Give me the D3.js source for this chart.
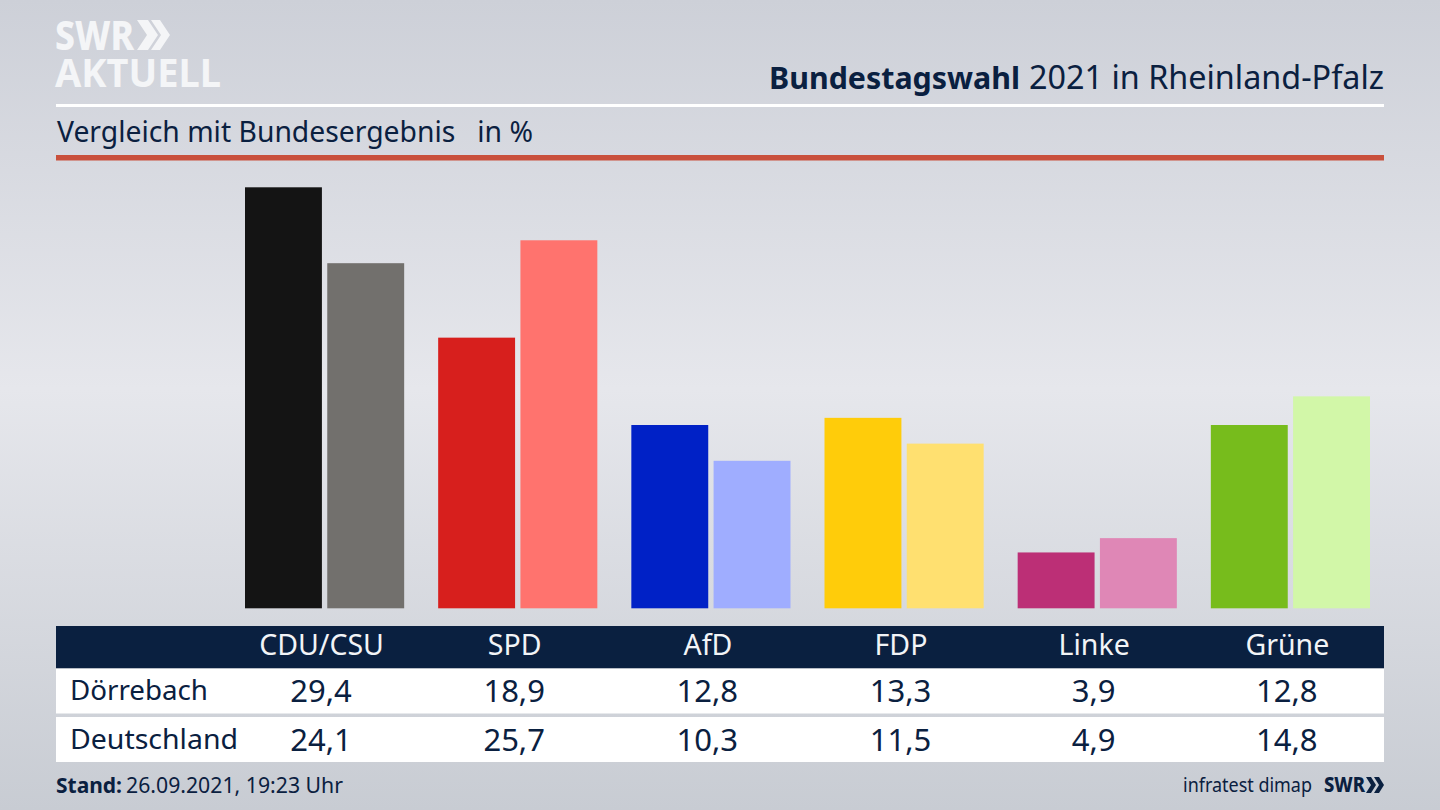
<!DOCTYPE html>
<html>
<head>
<meta charset="utf-8">
<script src="https://cdn.jsdelivr.net/npm/d3@7"></script>
<style>
  html, body { margin: 0; padding: 0; background: #d5d8de; overflow: hidden; }
  svg { display: block; }
  text { font-family: "Noto Sans", sans-serif; }
</style>
</head>
<body>
<svg id="chart" width="1440" height="810"></svg>
<script>
const parties = ['CDU/CSU', 'SPD', 'AfD', 'FDP', 'Linke', 'Grüne'];
const regions = ['Dörrebach', 'Deutschland'];
const doerrebach = [29.4, 18.9, 12.8, 13.3, 3.9, 12.8];
const deutschland = [24.1, 25.7, 10.3, 11.5, 4.9, 14.8];
const darkColors = ['#141414', '#d71f1d', '#0021c6', '#ffcc0a', '#bc2f76', '#77bc1c'];
const lightColors = ['#72706d', '#ff736e', '#9fadff', '#ffe070', '#df87b6', '#d2f7a8'];

const navy = '#0a2040';
const svg = d3.select('#chart');
const fmt = v => v.toFixed(1).replace('.', ',');

// background
const grad = svg.append('defs').append('linearGradient')
  .attr('id', 'bg').attr('x1', 0).attr('x2', 0).attr('y1', 0).attr('y2', 1);
grad.append('stop').attr('offset', '0%').attr('stop-color', '#cdd0d8');
grad.append('stop').attr('offset', '48%').attr('stop-color', '#e6e7ec');
grad.append('stop').attr('offset', '100%').attr('stop-color', '#c8ccd3');
svg.append('rect').attr('width', 1440).attr('height', 810).attr('fill', 'url(#bg)');

// scales
const x = d3.scaleBand().domain(parties).range([245, 1370]).paddingInner(0.176);
const x1 = d3.scaleBand().domain(regions).range([0, x.bandwidth()]).paddingInner(0.065);
const y = d3.scaleLinear().domain([0, 29.4]).range([608.3, 187.3]);
const center = p => x(p) + 76;

// logo, one text element with two lines
const logo = svg.append('g').attr('fill', '#f4f5f7');
const logoText = logo.append('text').attr('font-weight', 800);
logoText.append('tspan').attr('x', 55).attr('y', 50).attr('font-size', 41)
  .attr('textLength', 79).attr('lengthAdjust', 'spacingAndGlyphs').text('SWR');
logoText.append('tspan').attr('x', 55).attr('y', 87).attr('font-size', 40).attr('font-weight', 700)
  .attr('textLength', 166).attr('lengthAdjust', 'spacingAndGlyphs').text('AKTUELL');
logo.append('path').attr('d', 'M137 20h11l10 15-10 15h-11l10-15zM151 20h9l10 15-10 15h-9l10-15z');

// header
svg.append('text').attr('x', 769).attr('y', 89).attr('font-size', 31).attr('font-weight', 700).attr('fill', navy)
  .attr('textLength', 251).attr('lengthAdjust', 'spacingAndGlyphs').text('Bundestagswahl');
svg.append('text').attr('x', 1029).attr('y', 89).attr('font-size', 32).attr('fill', navy)
  .attr('textLength', 355).attr('lengthAdjust', 'spacingAndGlyphs').text('2021 in Rheinland-Pfalz');
svg.append('rect').attr('x', 56).attr('y', 104).attr('width', 1328).attr('height', 3).attr('fill', '#fff');
svg.append('text').attr('x', 57).attr('y', 142).attr('font-size', 28.3).attr('fill', navy)
  .attr('xml:space', 'preserve').text('Vergleich mit Bundesergebnis   in %');
svg.append('rect').attr('x', 56).attr('y', 155).attr('width', 1328).attr('height', 5.5).attr('fill', '#c9503c');

// bars
const groups = svg.append('g').selectAll('g').data(parties).enter().append('g')
  .attr('transform', d => `translate(${x(d)},0)`);
groups.append('rect')
  .attr('x', x1(regions[0])).attr('width', x1.bandwidth())
  .attr('y', (d, i) => y(doerrebach[i]))
  .attr('height', (d, i) => y(0) - y(doerrebach[i]))
  .attr('fill', (d, i) => darkColors[i]);
groups.append('rect')
  .attr('x', x1(regions[1])).attr('width', x1.bandwidth())
  .attr('y', (d, i) => y(deutschland[i]))
  .attr('height', (d, i) => y(0) - y(deutschland[i]))
  .attr('fill', (d, i) => lightColors[i]);

// table
svg.append('rect').attr('x', 56).attr('y', 626).attr('width', 1328).attr('height', 42.5).attr('fill', navy);
const rowY = [668.5, 717];
const rowValues = [doerrebach, deutschland];
regions.forEach((r, k) => {
  svg.append('rect').attr('x', 56).attr('y', rowY[k]).attr('width', 1328).attr('height', 45).attr('fill', '#fff');
  svg.append('text').attr('x', 70).attr('y', rowY[k] + 31.5 + k * 0.5).attr('font-size', 28)
    .attr('fill', navy).attr('textLength', k ? 168 : 138).attr('lengthAdjust', 'spacingAndGlyphs').text(r);
  svg.append('g').selectAll('text').data(parties).enter().append('text')
    .attr('x', d => center(d)).attr('y', rowY[k] + 33 + k)
    .attr('text-anchor', 'middle').attr('font-size', 31).attr('fill', navy)
    .text((d, i) => fmt(rowValues[k][i]));
});

// party labels as axis
const axis = svg.append('g').attr('transform', 'translate(0,626)')
  .call(d3.axisBottom(d3.scalePoint().domain(parties).range([center(parties[0]), center(parties[5])]))
    .tickSize(0).tickPadding(9));
axis.select('.domain').remove();
axis.selectAll('text').attr('font-size', 28.5).attr('fill', '#f2f4f7')
  .style('font-family', '"Noto Sans", sans-serif');

// footer
svg.append('text').attr('x', 56).attr('y', 793).attr('font-size', 22).attr('font-weight', 700).attr('fill', navy)
  .attr('textLength', 66).attr('lengthAdjust', 'spacingAndGlyphs').text('Stand:');
svg.append('text').attr('x', 126).attr('y', 793).attr('font-size', 21.5).attr('fill', navy)
  .attr('textLength', 217).attr('lengthAdjust', 'spacingAndGlyphs').text('26.09.2021, 19:23 Uhr');
svg.append('text').attr('x', 1312).attr('y', 792).attr('text-anchor', 'end').attr('font-size', 20).attr('fill', navy)
  .attr('textLength', 129).attr('lengthAdjust', 'spacingAndGlyphs').text('infratest dimap');
svg.append('text').attr('x', 1324).attr('y', 792).attr('font-size', 21).attr('font-weight', 800).attr('fill', navy)
  .attr('textLength', 41).attr('lengthAdjust', 'spacingAndGlyphs').text('SWR');
svg.append('path').attr('fill', navy).attr('d', 'M1366 777h5l5 8-5 8h-5l5-8zM1374 777h5l5 8-5 8h-5l5-8z');
</script>
</body>
</html>
